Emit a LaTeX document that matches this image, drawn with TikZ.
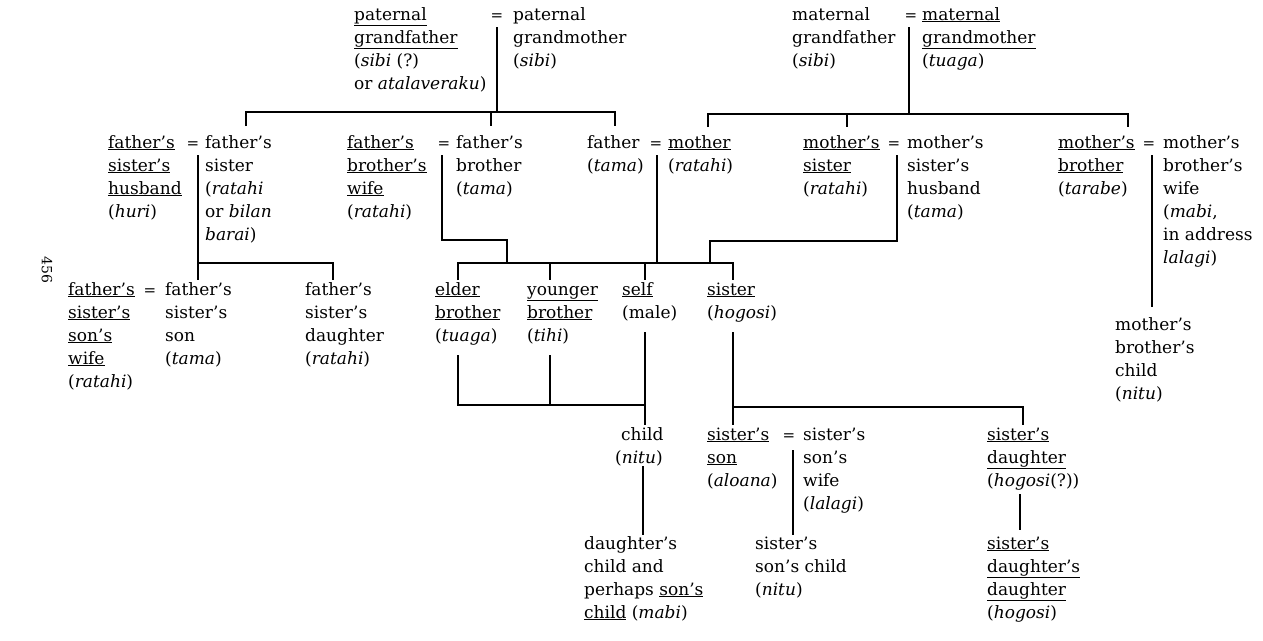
\documentclass[tikz,border=0pt]{standalone}
\usepackage{fontspec}
\setmainfont{DejaVu Serif}
\newcommand\kin[1]{\begin{tabular}[t]{@{}l@{}}#1\end{tabular}}
\newcommand\ul[1]{\underline{#1}}
\begin{document}
\begin{tikzpicture}[x=1pt,y=-1pt,
  tx/.style={anchor=base west,inner sep=0pt,font=\fontsize{17}{23}\selectfont},
  eq/.style={anchor=base,inner sep=0pt,font=\fontsize{15}{23}\selectfont},
  ln/.style={line width=2pt}]
\useasboundingbox (0,0) rectangle (1263,640);
\fill[white] (0,0) rectangle (1263,640);
% page number
\node[rotate=-90,inner sep=0pt,font=\fontsize{14}{16}\selectfont] (pg) at (47,270) {456};
% generation 1
\node[tx] (pgf) at (354,20) {\kin{\ul{paternal}\\ \ul{grandfather}\\ (\textit{sibi} (?)\\ or \textit{atalaveraku})}};
\node[eq] (eqpg) at (497,20) {=};
\node[tx] (pgm) at (513,20) {\kin{paternal\\ grandmother\\ (\textit{sibi})}};
\node[tx] (mgf) at (792,20) {\kin{maternal\\ grandfather\\ (\textit{sibi})}};
\node[eq] (eqmg) at (911,20) {=};
\node[tx] (mgm) at (922,20) {\kin{\ul{maternal}\\ \ul{grandmother}\\ (\textit{tuaga})}};
% generation 2
\node[tx] (fsh) at (108,148) {\kin{\ul{father's}\\ \ul{sister's}\\ \ul{husband}\\ (\textit{huri})}};
\node[eq] (eqfs) at (193,148) {=};
\node[tx] (fs) at (205,148) {\kin{father's\\ sister\\ (\textit{ratahi}\\ or \textit{bilan}\\ \textit{barai})}};
\node[tx] (fbw) at (347,148) {\kin{\ul{father's}\\ \ul{brother's}\\ \ul{wife}\\ (\textit{ratahi})}};
\node[eq] (eqfb) at (444,148) {=};
\node[tx] (fb) at (456,148) {\kin{father's\\ brother\\ (\textit{tama})}};
\node[tx] (fa) at (587,148) {\kin{father\\ (\textit{tama})}};
\node[eq] (eqfm) at (656,148) {=};
\node[tx] (mo) at (668,148) {\kin{\ul{mother}\\ (\textit{ratahi})}};
\node[tx] (ms) at (803,148) {\kin{\ul{mother's}\\ \ul{sister}\\ (\textit{ratahi})}};
\node[eq] (eqms) at (894,148) {=};
\node[tx] (msh) at (907,148) {\kin{mother's\\ sister's\\ husband\\ (\textit{tama})}};
\node[tx] (mb) at (1058,148) {\kin{\ul{mother's}\\ \ul{brother}\\ (\textit{tarabe})}};
\node[eq] (eqmb) at (1149,148) {=};
\node[tx] (mbw) at (1163,148) {\kin{mother's\\ brother's\\ wife\\ (\textit{mabi},\\ in address\\ \textit{lalagi})}};
% generation 3
\node[tx] (fssw) at (68,295) {\kin{\ul{father's}\\ \ul{sister's}\\ \ul{son's}\\ \ul{wife}\\ (\textit{ratahi})}};
\node[eq] (eqfss) at (150,295) {=};
\node[tx] (fss) at (165,295) {\kin{father's\\ sister's\\ son\\ (\textit{tama})}};
\node[tx] (fsd) at (305,295) {\kin{father's\\ sister's\\ daughter\\ (\textit{ratahi})}};
\node[tx] (eb) at (435,295) {\kin{\ul{elder}\\ \ul{brother}\\ (\textit{tuaga})}};
\node[tx] (yb) at (527,295) {\kin{\ul{younger}\\ \ul{brother}\\ (\textit{tihi})}};
\node[tx] (self) at (622,295) {\kin{\ul{self}\\ (male)}};
\node[tx] (sis) at (707,295) {\kin{\ul{sister}\\ (\textit{hogosi})}};
\node[tx] (mbc) at (1115,330) {\kin{mother's\\ brother's\\ child\\ (\textit{nitu})}};
% generation 4
\node[tx] (ch) at (615,440) {\kin{\hspace{6pt}child\\ (\textit{nitu})}};
\node[tx] (ss) at (707,440) {\kin{\ul{sister's}\\ \ul{son}\\ (\textit{aloana})}};
\node[eq] (eqss) at (789,440) {=};
\node[tx] (ssw) at (803,440) {\kin{sister's\\ son's\\ wife\\ (\textit{lalagi})}};
\node[tx] (sd) at (987,440) {\kin{\ul{sister's}\\ \ul{daughter}\\ (\textit{hogosi}(?))}};
% generation 5
\node[tx] (gc) at (584,549) {\kin{daughter's\\ child and\\ perhaps \ul{son's}\\ \ul{child} (\textit{mabi})}};
\node[tx] (ssc) at (755,549) {\kin{sister's\\ son's child\\ (\textit{nitu})}};
\node[tx] (sdd) at (987,549) {\kin{\ul{sister's}\\ \ul{daughter's}\\ \ul{daughter}\\ (\textit{hogosi})}};
% junction coordinates
\coordinate (pgT) at (497,27);
\coordinate (pgJ) at (497,112);
\coordinate (mgT) at (909,27);
\coordinate (mgJ) at (909,114);
\coordinate (fbJ) at (507,240);
\coordinate (msJ) at (710,241);
\coordinate (ebJ) at (645,405);
\coordinate (sisJ) at (733,407);
% lines
\draw[ln] (pgT) -- (pgJ);
\draw[ln] (246,126) -- (246,112) -- (615,112) -- (615,126);
\draw[ln] (491,112) -- (491,126);
\draw[ln] (mgT) -- (mgJ);
\draw[ln] (708,127) -- (708,114) -- (1128,114) -- (1128,127);
\draw[ln] (847,114) -- (847,127);
\draw[ln] (198,155) -- (198,280);
\draw[ln] (198,263) -- (333,263) -- (333,280);
\draw[ln] (442,155) -- (442,240) -- (fbJ) -- (507,263);
\draw[ln] (897,155) -- (897,241) -- (msJ) -- (710,263);
\draw[ln] (657,155) -- (657,263);
\draw[ln] (458,280) -- (458,263) -- (733,263) -- (733,280);
\draw[ln] (550,263) -- (550,280);
\draw[ln] (645,263) -- (645,280);
\draw[ln] (458,355) -- (458,405) -- (ebJ);
\draw[ln] (550,355) -- (550,405);
\draw[ln] (645,332) -- (645,425);
\draw[ln] (733,332) -- (sisJ) -- (1023,407) -- (1023,425);
\draw[ln] (733,407) -- (733,425);
\draw[ln] (643,466) -- (643,535);
\draw[ln] (793,450) -- (793,535);
\draw[ln] (1020,494) -- (1020,530);
\draw[ln] (1152,155) -- (1152,307);
\end{tikzpicture}
\end{document}
